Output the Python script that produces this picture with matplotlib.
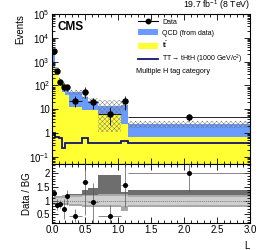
import numpy as np
import matplotlib
matplotlib.use("Agg")
import matplotlib.pyplot as plt
from matplotlib.lines import Line2D
from matplotlib.patches import Patch
from matplotlib.ticker import FixedLocator, FixedFormatter, MultipleLocator, LogLocator, NullFormatter

plt.rcParams['font.family'] = ['Liberation Sans', 'DejaVu Sans']
plt.rcParams['hatch.linewidth'] = 0.3
plt.rcParams['mathtext.default'] = 'regular'

# ---- data ----
bin_edges = [0.0, 0.05, 0.10, 0.15, 0.20, 0.25, 0.45, 0.55, 0.70, 1.05, 1.15, 3.0]
data = [2900, 400, 143, 83, 83, 23, 55, 21, 6.3, 23, 4.8]
data_err_lo = [150, 60, 35, 25, 25, 10, 24, 11, 4.1, 14, 1.6]
data_err_hi = [150, 60, 35, 25, 25, 13, 28, 10, 6.4, 13, 1.6]
ttbar = [620, 270, 100, 54, 40, 12.7, 9.2, 9.2, 6.3, 2.5, 0.7]
total_bg = [2280, 476, 164, 120, 72, 51, 33, 22, 14, 15, 2.3]
unc_lo_factor = [0.85, 0.8, 0.8, 0.8, 0.8, 0.8, 0.78, 0.78, 0.08, 0.6, 0.73]
unc_hi_factor = [1.15, 1.2, 1.2, 1.2, 1.2, 1.25, 1.3, 1.3, 1.7, 1.4, 1.36]
signal = [0.97, 0.70, 0.60, 0.23, 0.39, 0.39, 0.60, 0.39, 0.39, 0.47, 0.40]

ratio = [1.27, 0.84, 0.87, 0.69, 1.15, 0.45, 1.69, 0.96, 0.44, 1.57, 2.01]
ratio_err_lo = [0.15, 0.2, 0.15, 0.35, 0.3, 0.25, 1.2, 0.8, 0.4, 0.8, 0.7]
ratio_err_hi = [0.15, 0.2, 0.15, 0.35, 0.25, 0.25, 1.0, 0.7, 0.4, 1.0, 0.6]
band_dark_hi = [1.12, 1.15, 1.18, 1.2, 1.2, 1.25, 1.38, 1.45, 1.95, 1.3, 1.4]
band_med_lo = [0.85, 0.85, 0.85, 0.85, 0.85, 0.80, 0.78, 0.78, 0.78, 0.62, 0.78]
band_med_hi = [1.12, 1.15, 1.18, 1.2, 1.2, 1.22, 1.22, 1.22, 1.25, 1.25, 1.2]
band_light_lo = [0.92, 0.92, 0.9, 0.9, 0.9, 0.88, 0.85, 0.85, 0.85, 0.8, 0.84]
band_light_hi = [1.08, 1.08, 1.1, 1.1, 1.1, 1.12, 1.15, 1.15, 1.15, 1.15, 1.14]

ytick_vals = [0.1, 1, 10, 100, 1e3, 1e4, 1e5]
ytick_labels = [r'$10^{-1}$', '1', '10', r'$10^{2}$', r'$10^{3}$', r'$10^{4}$', r'$10^{5}$']

edges = np.array(bin_edges)
centers = 0.5 * (edges[:-1] + edges[1:])
halfw = 0.5 * (edges[1:] - edges[:-1])
tot = np.array(total_bg)

QCD_COL = '#6A9BFF'
TT_COL = '#FFFF33'
SIG_COL = '#14146E'

fig = plt.figure(figsize=(2.66, 2.5), dpi=100)
ax = fig.add_axes([0.1955, 0.344, 0.7445, 0.600])
ax2 = fig.add_axes([0.1955, 0.107, 0.7445, 0.237], sharex=ax)

ymin, ymax = 0.05, 1e5
ax.set_yscale('log')
ax.set_ylim(ymin, ymax)
ax.set_xlim(0, 3)

ax.stairs(total_bg, edges, baseline=ymin, fill=True, color=QCD_COL, lw=0)
ax.stairs(ttbar, edges, baseline=ymin, fill=True, color=TT_COL, lw=0)
ax.stairs(tot * np.array(unc_hi_factor), edges, baseline=tot * np.array(unc_lo_factor),
          fill=True, facecolor='none', edgecolor='#707070', hatch='xxxxxxx', lw=0)
ax.stairs(signal, edges, baseline=None, color=SIG_COL, lw=1.3)
ax.errorbar(centers, data, xerr=halfw, yerr=[data_err_lo, data_err_hi], fmt='o',
            color='black', ms=3.6, elinewidth=0.6, capsize=0, zorder=5)

ax.yaxis.set_major_locator(FixedLocator(ytick_vals))
ax.yaxis.set_major_formatter(FixedFormatter(ytick_labels))
ax.yaxis.set_minor_locator(LogLocator(base=10, subs=np.arange(2, 10), numticks=20))
ax.yaxis.set_minor_formatter(NullFormatter())
ax.xaxis.set_major_locator(MultipleLocator(0.5))
ax.xaxis.set_minor_locator(MultipleLocator(0.1))
for a in (ax, ax2):
    a.tick_params(which='both', direction='in', top=True, right=True, labelsize=7, width=0.6, pad=1.5)
    a.tick_params(which='major', length=4.5)
    a.tick_params(which='minor', length=2.2)
    for s in a.spines.values():
        s.set_linewidth(0.8)
ax.tick_params(labelbottom=False)

ax.set_ylabel('Events', loc='top', fontsize=7, labelpad=3)
ax.text(0.03, 0.955, 'CMS', transform=ax.transAxes, fontsize=8.5, fontweight='bold', va='top', ha='left')
ax.text(1.0, 1.012, r'19.7 fb$^{-1}$ (8 TeV)', transform=ax.transAxes, fontsize=6.3, ha='right', va='bottom')

handles = [Line2D([0], [0], color='black', marker='o', ms=3.2, lw=0.8),
           Patch(facecolor=QCD_COL, edgecolor='none'),
           Patch(facecolor=TT_COL, edgecolor='none'),
           Line2D([0], [0], color=SIG_COL, lw=1.3)]
labels = ['Data', 'QCD (from data)', r't$\bar{t}$', r'TT$\rightarrow$tHtH (1000 GeV/c$^{2}$)']
leg = ax.legend(handles, labels, loc='upper left', bbox_to_anchor=(0.41, 1.0), frameon=False,
                fontsize=5.0, handlelength=2.9, handleheight=1.0, labelspacing=0.45,
                handletextpad=0.6, borderaxespad=0.25)
ax.text(0.425, 0.615, 'Multiple H tag category', transform=ax.transAxes, fontsize=5.2, ha='left', va='center')

# ratio panel
ax2.stairs(band_dark_hi, edges, baseline=band_med_lo, fill=True, color='#6e6e6e', lw=0)
ax2.stairs(band_med_hi, edges, baseline=band_med_lo, fill=True, color='#a9a9a9', lw=0)
ax2.stairs(band_light_hi, edges, baseline=band_light_lo, fill=True, color='#cfcfcf', lw=0)
ax2.axhline(1.0, color='#808080', lw=0.7, ls=(0, (1, 1)))
ax2.errorbar(centers, ratio, xerr=halfw, yerr=[ratio_err_lo, ratio_err_hi], fmt='o',
             color='black', ms=2.6, elinewidth=0.5, ecolor='#555555', capsize=0, zorder=5)
ax2.set_ylim(0.17, 2.34)
ax2.yaxis.set_major_locator(FixedLocator([0.5, 1, 1.5, 2]))
ax2.yaxis.set_major_formatter(FixedFormatter(['0.5', '1', '1.5', '2']))
ax2.yaxis.set_minor_locator(MultipleLocator(0.1))
ax2.set_ylabel('Data / BG', fontsize=7, labelpad=3)
ax2.set_xlabel('L', loc='right', fontsize=7, labelpad=4)

fig.savefig('out.png', dpi=100)
